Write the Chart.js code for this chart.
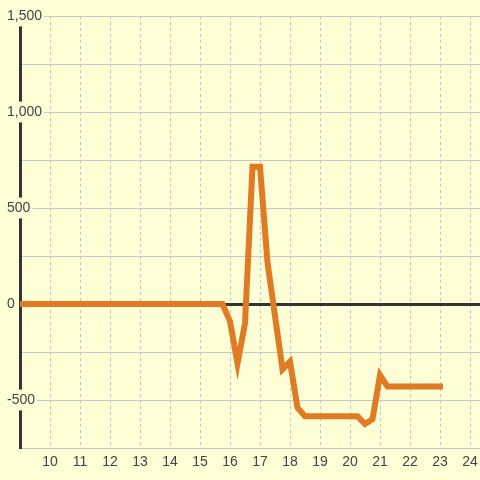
<!DOCTYPE html>
<html>
<head>
<meta charset="utf-8">
<script src="https://cdn.jsdelivr.net/npm/chart.js@4"></script>
<style>
  html, body { margin: 0; padding: 0; background: #fdfdd6; }
  canvas { display: block; }
</style>
</head>
<body>
<canvas id="chart" width="480" height="480"></canvas>
<script>
// hours of the day and the value at each one
const hours = [9, 15.75, 16, 16.25, 16.5, 16.75, 17, 17.25, 17.75, 18, 18.25, 18.5, 20.25, 20.5, 20.75, 21, 21.25, 23];
const values = [0, 0, -90, -310, -100, 715, 715, 215, -340, -300, -540, -585, -585, -625, -600, -370, -430, -430];

const yMin = -750;
const yMax = 1500;
const xMin = 9;
const xMax = 24.333;

const bg = '#fdfdd6';
const labelFont = { family: "'Liberation Sans', Arial, sans-serif", size: 14 };

const points = hours.map((h, i) => ({ x: h, y: values[i] }));

new Chart(document.getElementById('chart').getContext('2d'), {
    type: 'line',
    data: {
        datasets: [{
            data: points,
            borderColor: '#e07b24',
            borderWidth: 6,
            borderCapStyle: 'square',
            borderJoinStyle: 'miter',
            pointRadius: 0,
            tension: 0,
            fill: false
        }]
    },
    options: {
        responsive: false,
        animation: false,
        devicePixelRatio: 1,
        layout: {
            padding: { top: 16, left: 0, right: 0, bottom: 0 }
        },
        plugins: {
            legend: { display: false },
            tooltip: { enabled: false }
        },
        scales: {
            x: {
                type: 'linear',
                min: xMin,
                max: xMax,
                afterFit: scale => { scale.height = 32; },
                border: { display: false, dash: [3, 3] },
                grid: {
                    color: ctx => ctx.tick && ctx.tick.value === xMin ? 'rgba(0,0,0,0)' : '#c4c4c4',
                    lineWidth: 1,
                    tickLength: 6,
                    tickColor: 'rgba(0,0,0,0)',
                    drawTicks: true
                },
                ticks: {
                    stepSize: 1,
                    includeBounds: false,
                    padding: 0,
                    maxRotation: 0,
                    autoSkip: false,
                    color: '#444',
                    font: labelFont,
                    callback: value => value === xMin ? '' : String(value)
                }
            },
            y: {
                min: yMin,
                max: yMax,
                afterFit: scale => { scale.width = 20; },
                border: { display: true, color: '#333', width: 3 },
                grid: {
                    color: ctx => ctx.tick && ctx.tick.value === 0 ? '#333' : '#c8c8c8',
                    lineWidth: ctx => ctx.tick && ctx.tick.value === 0 ? 3 : 1,
                    drawTicks: false
                },
                ticks: {
                    stepSize: 250,
                    mirror: true,
                    padding: -13,
                    color: '#444',
                    font: labelFont,
                    showLabelBackdrop: ctx => ctx.tick && ctx.tick.value % 500 === 0,
                    backdropColor: bg,
                    backdropPadding: 2,
                    callback: value => value % 500 === 0 ? value.toLocaleString('en-US') : ''
                }
            }
        }
    }
});
</script>
</body>
</html>
